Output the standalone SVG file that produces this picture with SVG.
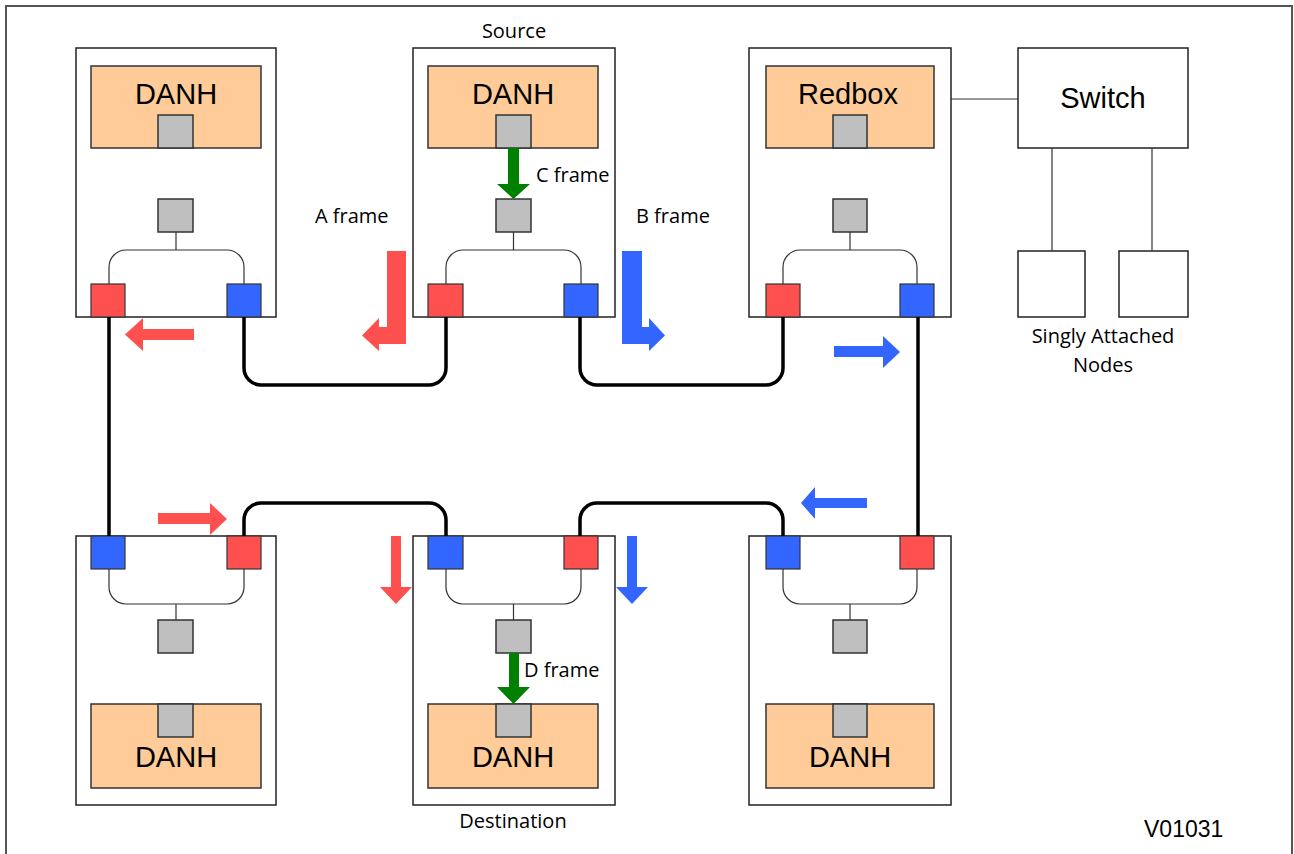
<svg xmlns="http://www.w3.org/2000/svg" width="1294" height="854" viewBox="0 0 1294 854">
<style>
.node{fill:#fff;stroke:#222;stroke-width:1.5}
.danh{fill:#FFCC99;stroke:#333;stroke-width:1.5}
.gray{fill:#BFBFBF;stroke:#333;stroke-width:1.5}
.red{fill:#FF5050;stroke:#333;stroke-width:1.2}
.blue{fill:#3366FF;stroke:#333;stroke-width:1.2}
.br{fill:none;stroke:#333;stroke-width:1.2}
.big{font-family:"Liberation Sans",Arial,sans-serif;font-size:29px;fill:#000;text-anchor:middle}
.lbl{font-family:"Open Sans","Liberation Sans",sans-serif;font-size:20px;fill:#000}
.mid{text-anchor:middle}
.wire{fill:none;stroke:#000;stroke-width:3.5}
.ar{fill:#FF5050}
.ab{fill:#3366FF}
.ag{fill:#008000}
.thin{fill:none;stroke:#333;stroke-width:1.2}
</style>
<rect x="6" y="6" width="1286" height="870" fill="#fff" stroke="#555" stroke-width="2"/>

<g id="node1">
<rect class="node" x="76" y="48" width="200" height="269"/>
<rect class="danh" x="91" y="66" width="170" height="82"/>
<text class="big" x="176" y="104">DANH</text>
<rect class="gray" x="158" y="115" width="35" height="33"/>
<rect class="gray" x="158" y="199" width="35" height="33"/>
<path class="br" d="M176,232 V250 M109,284 V267 A17,17 0 0 1 126,250 H227 A17,17 0 0 1 244,267 V284"/>
<rect class="red" x="91" y="284" width="34" height="33"/>
<rect class="blue" x="227" y="284" width="34" height="33"/>
</g>

<g id="node2">
<text class="lbl mid" x="514" y="38">Source</text>
<rect class="node" x="413" y="48" width="202" height="269"/>
<rect class="danh" x="428" y="66" width="170" height="82"/>
<text class="big" x="513" y="104">DANH</text>
<rect class="gray" x="496" y="115" width="35" height="33"/>
<rect class="gray" x="496" y="199" width="35" height="33"/>
<path class="br" d="M513.5,232 V250 M446,284 V267 A17,17 0 0 1 463,250 H564 A17,17 0 0 1 581,267 V284"/>
<rect class="red" x="428" y="284" width="35" height="33"/>
<rect class="blue" x="564" y="284" width="34" height="33"/>
</g>

<g id="node3">
<rect class="node" x="749" y="48" width="202" height="269"/>
<rect class="danh" x="766" y="66" width="168" height="82"/>
<text class="big" x="848" y="104">Redbox</text>
<rect class="gray" x="833" y="115" width="34" height="33"/>
<rect class="gray" x="833" y="199" width="34" height="33"/>
<path class="br" d="M850,232 V250 M783,284 V267 A17,17 0 0 1 800,250 H900 A17,17 0 0 1 917,267 V284"/>
<rect class="red" x="766" y="284" width="34" height="33"/>
<rect class="blue" x="900" y="284" width="34" height="33"/>
</g>

<g id="switch">
<rect class="node" x="1018" y="48" width="170" height="100"/>
<text class="big" x="1103" y="108">Switch</text>
</g>

<g id="san1">
<rect class="node" x="1018" y="251" width="67" height="66"/>
</g>
<g id="san2">
<rect class="node" x="1119" y="251" width="69" height="66"/>
</g>
<g id="san-label">
<text class="lbl mid" x="1103" y="343">Singly Attached</text>
<text class="lbl mid" x="1103" y="372">Nodes</text>
</g>

<g id="node4">
<rect class="node" x="76" y="536" width="200" height="269"/>
<rect class="blue" x="91" y="536" width="34" height="33"/>
<rect class="red" x="227" y="536" width="34" height="33"/>
<path class="br" d="M109,569 V587 A17,17 0 0 0 126,604 H227 A17,17 0 0 0 244,587 V569 M176,604 V620"/>
<rect class="gray" x="158" y="620" width="35" height="33"/>
<rect class="danh" x="91" y="704" width="170" height="84"/>
<rect class="gray" x="158" y="704" width="35" height="33"/>
<text class="big" x="176" y="767">DANH</text>
</g>

<g id="node5">
<rect class="node" x="413" y="536" width="202" height="269"/>
<rect class="blue" x="428" y="536" width="35" height="33"/>
<rect class="red" x="564" y="536" width="34" height="33"/>
<path class="br" d="M446,569 V587 A17,17 0 0 0 463,604 H564 A17,17 0 0 0 581,587 V569 M513.5,604 V620"/>
<rect class="gray" x="496" y="620" width="35" height="33"/>
<rect class="danh" x="428" y="704" width="170" height="84"/>
<rect class="gray" x="496" y="704" width="35" height="33"/>
<text class="big" x="513" y="767">DANH</text>
<text class="lbl mid" x="513" y="828">Destination</text>
</g>

<g id="node6">
<rect class="node" x="749" y="536" width="202" height="269"/>
<rect class="blue" x="766" y="536" width="34" height="33"/>
<rect class="red" x="900" y="536" width="34" height="33"/>
<path class="br" d="M783,569 V587 A17,17 0 0 0 800,604 H900 A17,17 0 0 0 917,587 V569 M850,604 V620"/>
<rect class="gray" x="833" y="620" width="34" height="33"/>
<rect class="danh" x="766" y="704" width="168" height="84"/>
<rect class="gray" x="833" y="704" width="34" height="33"/>
<text class="big" x="850" y="767">DANH</text>
</g>

<g id="connectors">
<path class="thin" d="M951,99 H1018 M1052,148 V251 M1152,148 V251"/>
<path class="wire" d="M109,317 V536"/>
<path class="wire" d="M244,317 V368 A17,17 0 0 0 261,385 H429 A17,17 0 0 0 446,368 V317"/>
<path class="wire" d="M580,317 V368 A17,17 0 0 0 597,385 H766 A17,17 0 0 0 783,368 V317"/>
<path class="wire" d="M918,317 V536"/>
<path class="wire" d="M244,536 V520 A17,17 0 0 1 261,503 H429 A17,17 0 0 1 446,520 V536"/>
<path class="wire" d="M580,536 V520 A17,17 0 0 1 597,503 H766 A17,17 0 0 1 783,520 V536"/>
</g>

<g id="arrows">
<polygon class="ar" points="194,329 143,329 143,318 125,334.5 143,351 143,340 194,340"/>
<polygon class="ar" points="387,251 406,251 406,344 379,344 379,351 362,335.5 379,318 379,327 387,327"/>
<polygon class="ab" points="622,251 642,251 642,327 649,327 649,318 665,335.5 649,351 649,344 622,344"/>
<polygon class="ag" points="508,148 519,148 519,184 530,184 513.5,199 497,184 508,184"/>
<polygon class="ab" points="834,346 883,346 883,336 900,352 883,368 883,357 834,357"/>
<polygon class="ar" points="158,513 210,513 210,503 227,519 210,535 210,524 158,524"/>
<polygon class="ar" points="391,536 401,536 401,587 412,587 396,604 380,587 391,587"/>
<polygon class="ab" points="627,536 637,536 637,587 648,587 632,604 616,587 627,587"/>
<polygon class="ab" points="867,498 815,498 815,487 801,503 815,519 815,508 867,508"/>
<polygon class="ag" points="509,653 519,653 519,687 530,687 513.5,704 497,687 509,687"/>
</g>

<g id="labels">
<text class="lbl" x="315" y="223">A frame</text>
<text class="lbl" x="636" y="223">B frame</text>
<text class="lbl" x="536" y="182">C frame</text>
<text class="lbl" x="524" y="677">D frame</text>
<text x="1144" y="837" font-family="Liberation Sans, Arial, sans-serif" font-size="23">V01031</text>
</g>
</svg>
